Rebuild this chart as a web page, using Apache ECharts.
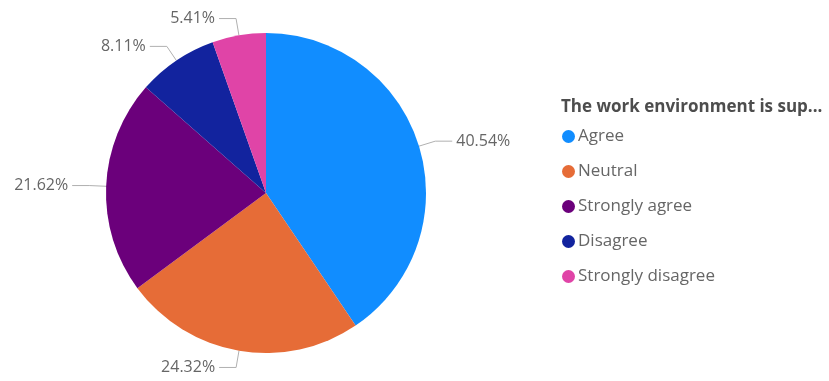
<!DOCTYPE html>
<html>
<head>
<meta charset="utf-8">
<script src="https://cdn.jsdelivr.net/npm/echarts@6/dist/echarts.min.js"></script>
<style>
  html, body { margin: 0; padding: 0; background: #ffffff; }
  #chart { width: 829px; height: 381px; }
</style>
</head>
<body>
<div id="chart"></div>
<script>
// Survey responses: share of each answer (%)
const categories = ['Agree', 'Neutral', 'Strongly agree', 'Disagree', 'Strongly disagree'];
const shares = [40.54, 24.32, 21.62, 8.11, 5.41];
const colors = ['#118DFF', '#E66C37', '#6B007B', '#12239E', '#E044A7'];
const legendTitle = 'The work environment is sup...';

const FONT = '"Segoe UI", "Open Sans", "Noto Sans", sans-serif';

const chart = echarts.init(document.getElementById('chart'), null, { renderer: 'canvas' });

chart.setOption({
  animation: false,
  color: colors,
  title: {
    text: legendTitle,
    left: 556,
    top: 94,
    textStyle: { fontFamily: FONT, fontSize: 17, fontWeight: 'bold', color: '#4d4d4d' }
  },
  legend: {
    orient: 'vertical',
    left: 557,
    top: 123,
    icon: 'circle',
    itemWidth: 13,
    itemHeight: 13,
    itemGap: 18,
    textStyle: { fontFamily: FONT, fontSize: 17, color: '#666666', padding: [0, 0, 0, -2] },
    data: categories
  },
  series: [{
    type: 'pie',
    center: [266, 193],
    radius: [0, 160],
    startAngle: 90,
    clockwise: true,
    avoidLabelOverlap: false,
    label: {
      show: true,
      position: 'outside',
      formatter: '{c}%',
      fontFamily: FONT,
      fontSize: 16,
      color: '#666666',
      distanceToLabelLine: 4
    },
    labelLine: {
      show: true,
      length: 17,
      length2: 17,
      lineStyle: { color: '#b0b0b0', width: 1 }
    },
    emphasis: { disabled: true },
    data: categories.map((name, i) => ({ name, value: shares[i] }))
  }]
});
</script>
</body>
</html>
